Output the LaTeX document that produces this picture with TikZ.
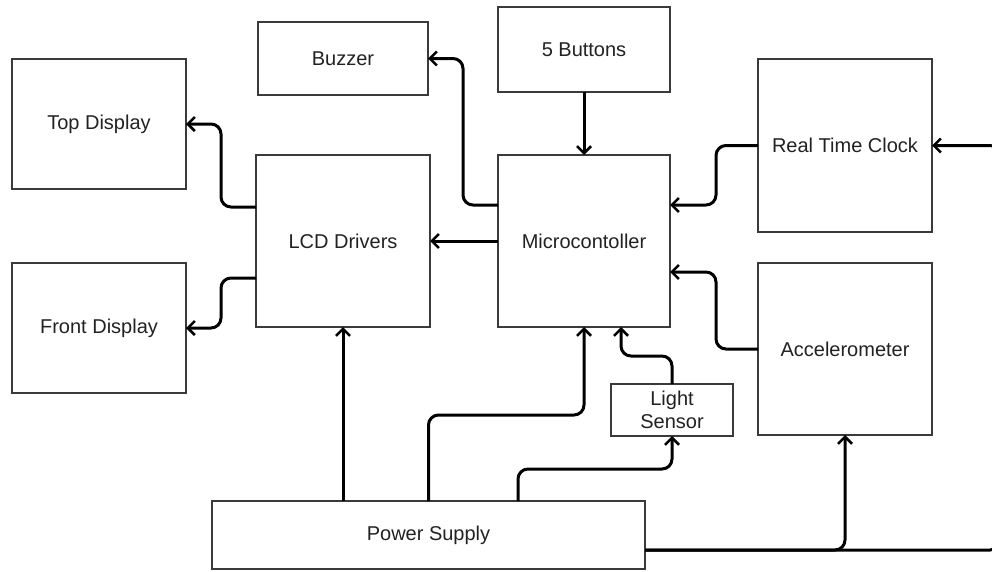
\documentclass[tikz,border=0pt]{standalone}
\usepackage{fontspec}
\setmainfont{Liberation Sans}
\usetikzlibrary{arrows.meta}
\definecolor{boxline}{HTML}{3A3A3A}
\definecolor{txt}{HTML}{222222}
\tikzset{
  blk/.style={draw=boxline, line width=2.2pt, fill=white, inner sep=0pt, outer sep=0pt, text=txt,
    font=\fontsize{20}{23}\selectfont, align=center},
  conn/.style={draw=black, line width=3pt, rounded corners=10pt,
    -{Straight Barb[length=7pt,width=14pt,line width=2.6pt]}}
}
\begin{document}
\begin{tikzpicture}[x=1pt,y=-1pt]
\useasboundingbox (0,0) rectangle (992,571);
% boxes
\node[blk, minimum width=174pt, minimum height=130pt] (top) at (99,124) {Top Display};
\node[blk, minimum width=174pt, minimum height=130pt] (front) at (99,328) {Front Display};
\node[blk, minimum width=174pt, minimum height=172pt] (lcd) at (343,241) {LCD Drivers};
\node[blk, minimum width=170pt, minimum height=73pt] (buzzer) at (343,58.5) {Buzzer};
\node[blk, minimum width=172pt, minimum height=85pt] (buttons) at (584,49.5) {5 Buttons};
\node[blk, minimum width=172pt, minimum height=172pt] (micro) at (584,241) {Microcontoller};
\node[blk, minimum width=174pt, minimum height=173pt] (rtc) at (845,145.5) {Real Time Clock};
\node[blk, minimum width=174pt, minimum height=172pt] (accel) at (845,349) {Accelerometer};
\node[blk, minimum width=122pt, minimum height=52pt] (light) at (672,410) {Light\\Sensor};
\node[blk, minimum width=433pt, minimum height=68pt] (ps) at (428.5,535) {Power Supply};
% connectors
\draw[conn] ([yshift=34pt]lcd.west) -- (221,207) -- (221,124) -- (top.east);
\draw[conn] ([yshift=-37pt]lcd.west) -- (221,278) -- (221,328) -- (front.east);
\draw[conn] ([yshift=36pt]micro.west) -- (463,205) -- (463,58.5) -- (buzzer.east);
\draw[conn] (micro.west) -- (lcd.east);
\draw[conn] (buttons.south) -- (micro.north);
\draw[conn] (rtc.west) -- (716,145.5) -- (716,205) -- ([yshift=36pt]micro.east);
\draw[conn] (accel.west) -- (716,349) -- (716,272) -- ([yshift=-31pt]micro.east);
\draw[conn] ([yshift=-15pt]ps.east) -- (1000,550) -- (1000,145.5) -- (rtc.east);
\draw[conn] ([yshift=-15pt]ps.east) -- (845,550) -- (accel.south);
\draw[conn] (lcd.south |- ps.north) -- (lcd.south);
\draw[conn] (ps.north) -- (428.5,415) -- (584,415) -- (micro.south);
\draw[conn] ([xshift=89.5pt]ps.north) -- (518,469) -- (672,469) -- (light.south);
\draw[conn] (light.north) -- (672,356) -- (621,356) -- ([xshift=37pt]micro.south);
\end{tikzpicture}
\end{document}
